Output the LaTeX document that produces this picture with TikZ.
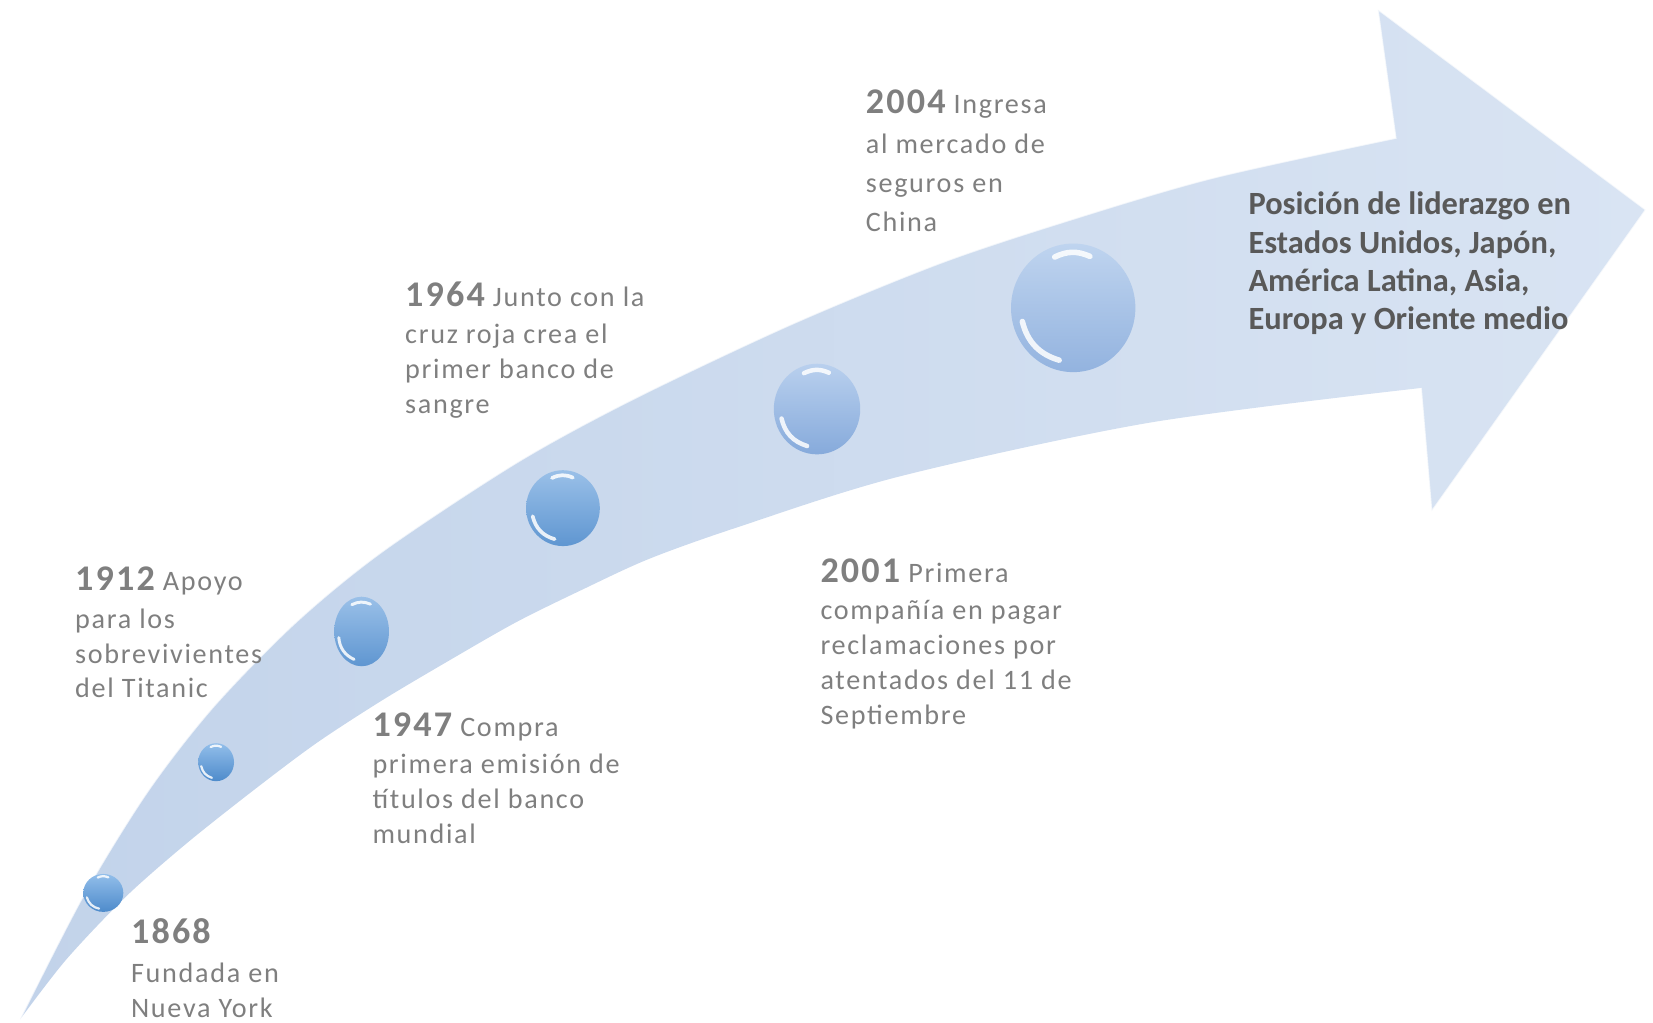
\documentclass[tikz,border=0pt]{standalone}
\usepackage{fontspec}
\setmainfont{Carlito}
\usepackage{tikz}
\usetikzlibrary{
  shapes.geometric,
  calc
}
\definecolor{txtgrey}{HTML}{7F7F7F}
\definecolor{leadgrey}{HTML}{595959}
\definecolor{bandDark}{HTML}{C2D3EA}
\definecolor{bandLight}{HTML}{D9E4F3}
\definecolor{bubAtop}{HTML}{92BEEA}
\definecolor{bubAbot}{HTML}{4E8BCB}
\definecolor{bubBtop}{HTML}{9AC0E8}
\definecolor{bubBbot}{HTML}{5F96D1}
\definecolor{bubCtop}{HTML}{B9D0EE}
\definecolor{bubCbot}{HTML}{86AADB}
\definecolor{bubDtop}{HTML}{BFD4EF}
\definecolor{bubDbot}{HTML}{93B3DF}
\newcommand\yr[1]{{\fontsize{19.5}{20}\selectfont\bfseries #1}}
\tikzset{
  event/.style={
    anchor=base west, align=left, inner sep=0pt, text=txtgrey,
    font=\fontsize{15.2}{18.8}\selectfont\addfontfeatures{LetterSpace=6}
  },
  lead/.style={
    anchor=base west, align=left, inner sep=0pt, text=leadgrey,
    font=\fontsize{17.5}{20.7}\selectfont\bfseries
  },
  band/.style={left color=bandDark, right color=bandLight},
  rim/.style={draw=white, draw opacity=0.7, line width=0.8pt},
  bubble/.style 2 args={
    ellipse, inner sep=0pt, top color=#1, bottom color=#2
  },
  glint/.style={white, opacity=0.85, line cap=round}
}
\begin{document}
\begin{tikzpicture}[x=0.02cm, y=-0.02cm]
\useasboundingbox (0,0) rectangle (1568,970);
\coordinate (tail) at (19,967);
\coordinate (notchT) at (1324,131);
\coordinate (headT) at (1307,9);
\coordinate (tip) at (1561,199);
\coordinate (headB) at (1358,485);
\coordinate (notchB) at (1348,368);
\shade[band] plot[smooth, tension=0.5] coordinates {
  (tail) (79,850) (140,751) (202,671) (280,591) (363,523) (490,439)
  (600,379) (750,308) (891,250) (1011,210) (1150,169) (notchT)}
  -- (headT) -- (tip) -- (headB) -- (notchB)
  -- plot[smooth, tension=0.5] coordinates {
  (notchB) (1090,401) (853,452) (700,500) (616,530) (553,559) (490,590)
  (427,626) (363,664) (300,705) (240,750) (177,800) (120,850) (63,910) (tail)}
  -- cycle;
\draw[rim] plot[smooth, tension=0.5] coordinates {
  (tail) (79,850) (140,751) (202,671) (280,591) (363,523) (490,439)
  (600,379) (750,308) (891,250) (1011,210) (1150,169) (notchT)}
  -- (headT) -- (tip) -- (headB) -- (notchB);
\foreach \nm/\x/\y/\rx/\ry/\ct/\cb/\gw in {%
  b1868/98/847/19/18/bubAtop/bubAbot/1.2,
  b1912/205/723/17/18/bubAtop/bubAbot/1.2,
  b1947/343/599/26/33/bubBtop/bubBbot/1.6,
  b1964/534/482/35/36/bubBtop/bubBbot/2,
  b2001/775/388/41/43/bubCtop/bubCbot/2.4,
  b2004/1018/292/59/61/bubDtop/bubDbot/3%
} {
  \node[bubble={\ct}{\cb}, minimum width=\rx*0.04cm,
    minimum height=\ry*0.04cm] (\nm) at (\x,\y) {};
  \draw[glint, line width=\gw*1pt]
    ($(\nm.center)!0.84!(\nm.195)$) to[bend right=30] ($(\nm.center)!0.84!(\nm.255)$);
  \draw[glint, line width=\gw*1pt]
    ($(\nm.center)!0.84!(\nm.72)$) to[bend right=25] ($(\nm.center)!0.84!(\nm.110)$);
}
\node[event] (t1868) at (124,965) {\yr{1868}\\[2pt]Fundada en\\Nueva York};
\node[event] (t1912) at (71,662) {\yr{1912} Apoyo\\[1.5pt]para los\\sobrevivientes\\del Titanic};
\node[event] (t1947) at (353,800) {\yr{1947} Compra\\[1.5pt]primera emisión de\\títulos del banco\\mundial};
\node[event] (t1964) at (384,392) {\yr{1964} Junto con la\\[1.5pt]cruz roja crea el\\primer banco de\\sangre};
\node[event] (t2001) at (778,687) {\yr{2001} Primera\\[1.5pt]compañía en pagar\\reclamaciones por\\atentados del 11 de\\Septiembre};
\node[event, font=\fontsize{15.2}{21.3}\selectfont\addfontfeatures{LetterSpace=6}] (t2004) at (821,220)
  {\yr{2004} Ingresa\\al mercado de\\seguros en\\China};
\node[lead] (goal) at (1184,313) {Posición de liderazgo en\\Estados Unidos, Japón,\\América Latina, Asia,\\Europa y Oriente medio};
\end{tikzpicture}
\end{document}
